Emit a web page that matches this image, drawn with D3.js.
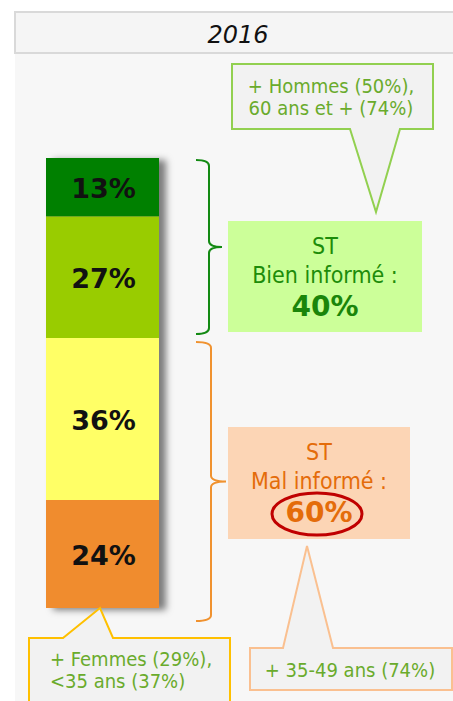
<!DOCTYPE html>
<html>
<head>
<meta charset="utf-8">
<script src="https://d3js.org/d3.v7.min.js"></script>
<style>
  body { margin: 0; background: #fff; }
  svg { display: block; font-family: "DejaVu Sans", Verdana, sans-serif; }
  .cond { font-family: "DejaVu Sans Condensed", "DejaVu Sans", sans-serif; }
</style>
</head>
<body>
<svg id="chart" width="453" height="701"></svg>
<script>
// data
var year = "2016";
var levels = ["Très bien informé", "Plutôt bien informé", "Plutôt mal informé", "Très mal informé"];
var shares = [13, 27, 36, 24];
var levelColors = ["#008000", "#99cc00", "#ffff66", "#f08c2e"];
var groupNames = ["Bien informé :", "Mal informé :"];
var groupTotals = [40, 60];
var calloutTop = ["+ Hommes (50%),", "60 ans et + (74%)"];
var calloutLeft = ["+ Femmes (29%),", "<35 ans (37%)"];
var calloutRight = ["+ 35-49 ans (74%)"];

var svg = d3.select("#chart");
var W = 453, H = 701;

// background panels
svg.append("rect").attr("x", 15).attr("y", 53).attr("width", W - 15).attr("height", H - 53).attr("fill", "#f7f7f7");
svg.append("rect").attr("x", 15).attr("y", 12).attr("width", W).attr("height", 41)
  .attr("fill", "#f5f5f5").attr("stroke", "#d9d9d9").attr("stroke-width", 2);
svg.append("text").attr("x", 238).attr("y", 43).attr("text-anchor", "middle")
  .style("font-style", "italic").style("font-size", "24px").attr("fill", "#111").text(year);

// shadow filter
var defs = svg.append("defs");
var f = defs.append("filter").attr("id", "shadow").attr("x", "-20%").attr("y", "-10%").attr("width", "150%").attr("height", "120%");
f.append("feDropShadow").attr("dx", 7).attr("dy", 2).attr("stdDeviation", 3.5)
  .attr("flood-color", "#000").attr("flood-opacity", 0.5);

var y = d3.scaleLinear().domain([0, 100]).range([158, 608]);
var barX = 46, barW = 113;

var stacked = [];
var acc = 0;
shares.forEach(function(v, i) {
  stacked.push({ name: levels[i], value: v, y0: acc, y1: acc + v, color: levelColors[i] });
  acc += v;
});

var bar = svg.append("g");
bar.append("rect").attr("x", barX).attr("y", y(0)).attr("width", barW).attr("height", y(100) - y(0))
  .attr("fill", "#888").attr("filter", "url(#shadow)");
bar.selectAll("rect.seg").data(stacked).enter().append("rect")
  .attr("class", "seg")
  .attr("x", barX).attr("y", d => y(d.y0))
  .attr("width", barW).attr("height", d => y(d.y1) - y(d.y0))
  .attr("fill", d => d.color);
bar.selectAll("text").data(stacked).enter().append("text")
  .attr("x", barX + barW / 2 + 1)
  .attr("y", d => (y(d.y0) + y(d.y1)) / 2 + 11)
  .attr("text-anchor", "middle")
  .style("font-size", "27px").style("font-weight", "bold")
  .attr("fill", "#111")
  .text(d => d.value + "%");

// braces
function brace(x0, x1, x2, ya, yb) {
  var ym = (ya + yb) / 2, r = 6;
  return "M" + x0 + "," + ya + " Q" + x1 + "," + ya + " " + x1 + "," + (ya + r) +
    " L" + x1 + "," + (ym - r) + " Q" + x1 + "," + ym + " " + x2 + "," + ym +
    " Q" + x1 + "," + ym + " " + x1 + "," + (ym + r) +
    " L" + x1 + "," + (yb - r) + " Q" + x1 + "," + yb + " " + x0 + "," + yb;
}
svg.append("path").attr("d", brace(196, 209, 222, y(0) + 2, y(groupTotals[0]) - 4))
  .attr("fill", "none").attr("stroke", "#138a13").attr("stroke-width", 2);
svg.append("path").attr("d", brace(196, 211, 226, y(groupTotals[0]) + 4, y(100) + 13))
  .attr("fill", "none").attr("stroke", "#f0922f").attr("stroke-width", 2);

// summary boxes
var boxes = [
  { x: 228, y: 221, w: 194, h: 111, fill: "#ccff99", color: "#1d8c0a", bold: "#1a850a", label: groupNames[0], value: groupTotals[0] },
  { x: 228, y: 427, w: 182, h: 112, fill: "#fcd5b5", color: "#e46c0a", bold: "#e46c0a", label: groupNames[1], value: groupTotals[1] }
];
boxes.forEach(function(b) {
  var g = svg.append("g");
  var cx = b.x + b.w / 2;
  g.append("rect").attr("x", b.x).attr("y", b.y).attr("width", b.w).attr("height", b.h).attr("fill", b.fill);
  g.append("text").attr("class", "cond").attr("x", cx).attr("y", b.y + 33).attr("text-anchor", "middle")
    .style("font-size", "23px").attr("fill", b.color).text("ST");
  g.append("text").attr("class", "cond").attr("x", cx).attr("y", b.y + 62).attr("text-anchor", "middle")
    .style("font-size", "23px").attr("fill", b.color).text(b.label);
  g.append("text").attr("x", cx).attr("y", b.y + 95).attr("text-anchor", "middle")
    .style("font-size", "28px").style("font-weight", "bold").attr("fill", b.bold).text(b.value + "%");
});
// red ellipse around 60%
svg.append("ellipse").attr("cx", 317).attr("cy", 514).attr("rx", 45).attr("ry", 21)
  .attr("fill", "none").attr("stroke", "#c00000").attr("stroke-width", 3);

// callouts
function callout(pts, stroke) {
  svg.append("path").attr("d", d3.line()(pts) + "Z")
    .attr("fill", "#f2f2f2").attr("stroke", stroke).attr("stroke-width", 2);
}
var textColor = "#6aab2c";

// top callout: rect 232-433 x 64-129, tip (376,212)
callout([[232, 64], [433, 64], [433, 129], [400, 129], [376, 212], [350, 129], [232, 129]], "#92d050");
calloutTop.forEach(function(t, i) {
  svg.append("text").attr("class", "cond").attr("x", 331).attr("y", 93 + i * 22).attr("text-anchor", "middle")
    .style("font-size", "20px").attr("fill", textColor).text(t);
});

// bottom left callout
callout([[29, 638], [63, 638], [100, 608], [113, 638], [230, 638], [230, 712], [29, 712]], "#ffc000");
calloutLeft.forEach(function(t, i) {
  svg.append("text").attr("class", "cond").attr("x", 50).attr("y", 666 + i * 22)
    .style("font-size", "20px").attr("fill", textColor).text(t);
});

// bottom right callout
callout([[250, 648], [283, 648], [307, 546], [333, 648], [452, 648], [452, 690], [250, 690]], "#fac090");
calloutRight.forEach(function(t) {
  svg.append("text").attr("class", "cond").attr("x", 350).attr("y", 677).attr("text-anchor", "middle")
    .style("font-size", "20px").attr("fill", textColor).text(t);
});
</script>
</body>
</html>
